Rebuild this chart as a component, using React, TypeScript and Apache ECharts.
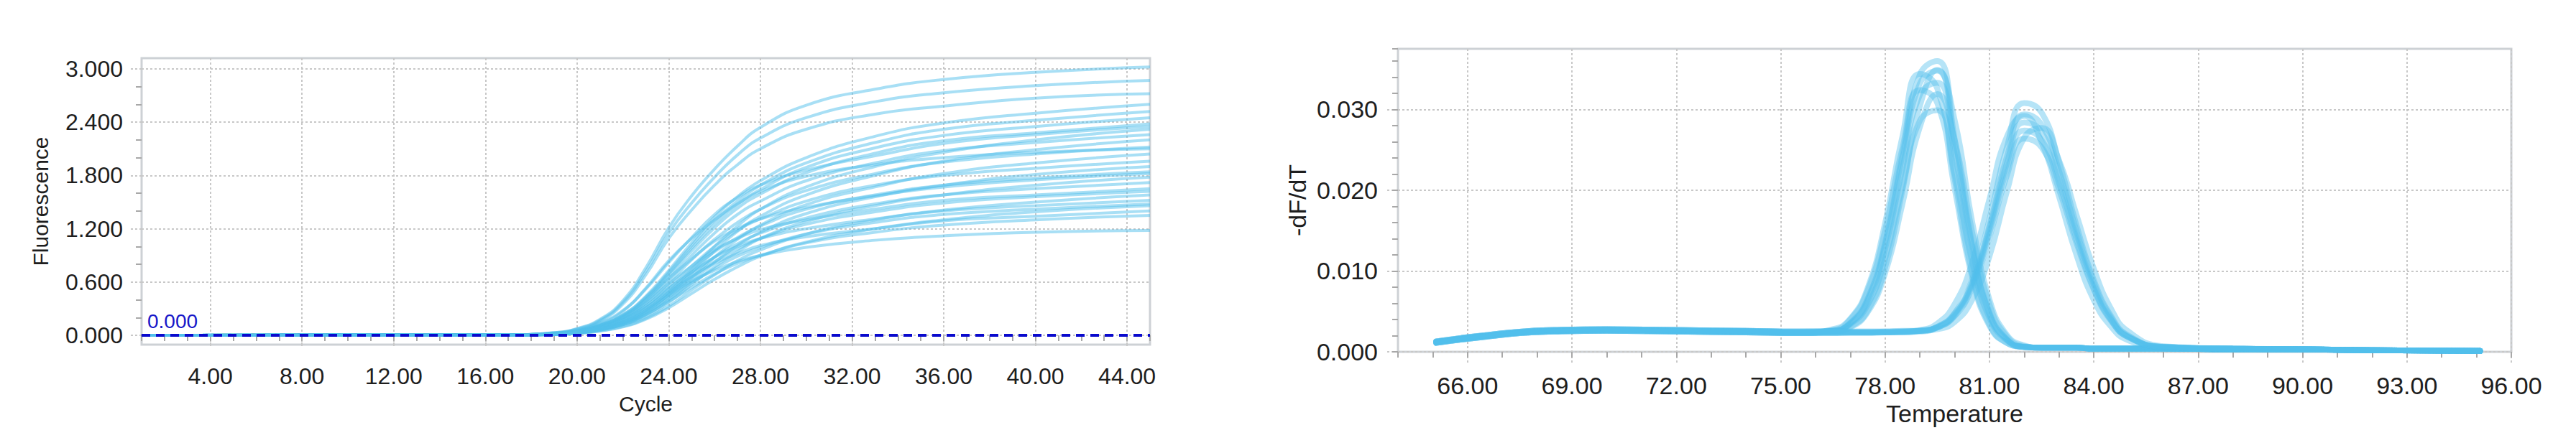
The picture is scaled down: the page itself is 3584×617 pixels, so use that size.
import { useEffect, useRef } from "react";
import * as echarts from "echarts";

// ---- amplification plot (left) ----
const CYCLES = [1, 17, 19, 20, 21, 22, 23, 24, 25, 26, 27, 28, 30, 33, 36, 40, 45];

const AMPLIFICATION: number[][] = [
  [0, 0.006, 0.03, 0.076, 0.18, 0.39, 0.76, 1.21, 1.57, 1.87, 2.13, 2.34, 2.59, 2.77, 2.88, 2.96, 3.02],
  [0, 0.006, 0.029, 0.072, 0.17, 0.37, 0.72, 1.15, 1.49, 1.78, 2.03, 2.22, 2.45, 2.63, 2.73, 2.81, 2.87],
  [0, 0.005, 0.027, 0.068, 0.16, 0.35, 0.68, 1.09, 1.41, 1.69, 1.92, 2.1, 2.32, 2.49, 2.58, 2.67, 2.72],
  [0, 0.005, 0.021, 0.052, 0.12, 0.23, 0.44, 0.73, 1.04, 1.33, 1.56, 1.74, 2.0, 2.24, 2.39, 2.5, 2.6],
  [0, 0.005, 0.02, 0.05, 0.11, 0.23, 0.43, 0.71, 1.01, 1.29, 1.51, 1.69, 1.94, 2.17, 2.32, 2.42, 2.52],
  [0, 0.005, 0.02, 0.049, 0.11, 0.22, 0.42, 0.69, 0.98, 1.25, 1.47, 1.64, 1.89, 2.11, 2.25, 2.35, 2.45],
  [0, 0.005, 0.019, 0.048, 0.11, 0.21, 0.4, 0.67, 0.95, 1.21, 1.43, 1.59, 1.83, 2.05, 2.19, 2.28, 2.38],
  [0, 0.005, 0.024, 0.059, 0.14, 0.28, 0.52, 0.82, 1.1, 1.36, 1.55, 1.69, 1.86, 2.02, 2.16, 2.26, 2.35],
  [0, 0.002, 0.012, 0.032, 0.074, 0.15, 0.28, 0.49, 0.74, 1.0, 1.23, 1.42, 1.67, 1.9, 2.06, 2.2, 2.32],
  [0, 0.005, 0.018, 0.045, 0.1, 0.2, 0.38, 0.63, 0.9, 1.15, 1.36, 1.51, 1.74, 1.94, 2.08, 2.17, 2.26],
  [0, 0.002, 0.011, 0.031, 0.07, 0.14, 0.26, 0.46, 0.7, 0.95, 1.17, 1.34, 1.58, 1.8, 1.96, 2.09, 2.2],
  [0, 0.004, 0.017, 0.042, 0.095, 0.19, 0.36, 0.59, 0.85, 1.08, 1.27, 1.42, 1.63, 1.82, 1.95, 2.04, 2.12],
  [0, 0.004, 0.021, 0.053, 0.13, 0.27, 0.53, 0.84, 1.09, 1.3, 1.48, 1.62, 1.79, 1.92, 2.0, 2.06, 2.1],
  [0, 0.002, 0.01, 0.029, 0.065, 0.13, 0.24, 0.43, 0.65, 0.88, 1.08, 1.24, 1.47, 1.67, 1.82, 1.94, 2.04],
  [0, 0.004, 0.016, 0.039, 0.088, 0.18, 0.33, 0.55, 0.78, 1.0, 1.18, 1.31, 1.51, 1.69, 1.8, 1.88, 1.96],
  [0, 0.002, 0.01, 0.027, 0.061, 0.12, 0.23, 0.4, 0.61, 0.82, 1.01, 1.16, 1.37, 1.56, 1.69, 1.81, 1.9],
  [0, 0.004, 0.015, 0.037, 0.083, 0.17, 0.31, 0.52, 0.74, 0.94, 1.1, 1.23, 1.42, 1.58, 1.69, 1.77, 1.84],
  [0, 0.004, 0.018, 0.046, 0.11, 0.22, 0.4, 0.64, 0.86, 1.06, 1.2, 1.31, 1.44, 1.57, 1.67, 1.75, 1.82],
  [0, 0.002, 0.009, 0.025, 0.057, 0.12, 0.21, 0.37, 0.57, 0.77, 0.94, 1.09, 1.28, 1.46, 1.58, 1.69, 1.78],
  [0, 0.003, 0.014, 0.034, 0.077, 0.15, 0.29, 0.48, 0.69, 0.88, 1.03, 1.15, 1.32, 1.48, 1.58, 1.65, 1.72],
  [0, 0.003, 0.017, 0.041, 0.099, 0.2, 0.36, 0.58, 0.78, 0.96, 1.09, 1.19, 1.3, 1.42, 1.52, 1.58, 1.65],
  [0, 0.003, 0.013, 0.032, 0.073, 0.15, 0.28, 0.45, 0.65, 0.83, 0.97, 1.09, 1.25, 1.39, 1.49, 1.56, 1.62],
  [0, 0.002, 0.008, 0.022, 0.051, 0.1, 0.19, 0.33, 0.51, 0.68, 0.84, 0.96, 1.14, 1.3, 1.41, 1.5, 1.58],
  [0, 0.003, 0.015, 0.038, 0.091, 0.18, 0.33, 0.53, 0.71, 0.88, 1.0, 1.09, 1.2, 1.31, 1.4, 1.46, 1.52],
  [0, 0.003, 0.012, 0.03, 0.067, 0.13, 0.25, 0.41, 0.59, 0.75, 0.89, 0.99, 1.14, 1.27, 1.36, 1.42, 1.48],
  [0, 0.001, 0.007, 0.02, 0.047, 0.095, 0.18, 0.31, 0.47, 0.63, 0.77, 0.89, 1.05, 1.2, 1.3, 1.39, 1.46],
  [0, 0.003, 0.014, 0.035, 0.084, 0.17, 0.31, 0.49, 0.66, 0.81, 0.92, 1.01, 1.11, 1.2, 1.29, 1.34, 1.4],
  [0, 0.003, 0.011, 0.027, 0.061, 0.12, 0.23, 0.38, 0.54, 0.69, 0.81, 0.9, 1.04, 1.16, 1.24, 1.3, 1.35],
  [0, 0.002, 0.012, 0.03, 0.07, 0.14, 0.27, 0.45, 0.61, 0.73, 0.83, 0.9, 0.99, 1.07, 1.12, 1.16, 1.18],
];

const CYCLE_TICKS = [4, 8, 12, 16, 20, 24, 28, 32, 36, 40, 44];
const FLUOR_TICKS = [0, 0.6, 1.2, 1.8, 2.4, 3.0];
const FLUOR_MINOR = [0.2, 0.4, 0.8, 1.0, 1.4, 1.6, 2.0, 2.2, 2.6, 2.8];
const THRESHOLD = 0;

// ---- melt curve plot (right) ----
const TEMPS = [
  65.1, 65.8, 66.6, 67.5, 68.5, 70, 72, 74, 75.5, 76.5, 77, 77.5, 78, 78.5, 79, 79.5,
  80, 80.5, 81, 81.5, 82, 82.5, 83, 83.5, 84, 84.5, 85, 86, 88, 90, 92, 95.1,
];

// wells whose product melts near 79.35 C
const MELT_PEAK1: number[][] = [
  [0.0013, 0.0017, 0.0021, 0.0025, 0.0027, 0.0028, 0.0027, 0.0026, 0.0025, 0.0026, 0.0036, 0.0066, 0.0135, 0.0244, 0.0343, 0.036, 0.0264, 0.0134, 0.0049, 0.0016, 0.0006, 0.0005, 0.0005, 0.0005, 0.0004, 0.0004, 0.0004, 0.0004, 0.0003, 0.0003, 0.0002, 0.0001],
  [0.0012, 0.0016, 0.002, 0.0024, 0.0026, 0.0027, 0.0026, 0.0025, 0.0024, 0.0026, 0.0035, 0.0064, 0.0131, 0.0237, 0.0332, 0.0348, 0.0255, 0.013, 0.0047, 0.0015, 0.0006, 0.0005, 0.0005, 0.0005, 0.0004, 0.0004, 0.0004, 0.0004, 0.0003, 0.0003, 0.0002, 0.0001],
  [0.0011, 0.0015, 0.0019, 0.0023, 0.0025, 0.0026, 0.0025, 0.0024, 0.0023, 0.0028, 0.0041, 0.0079, 0.0159, 0.0267, 0.0344, 0.0326, 0.0214, 0.0098, 0.0034, 0.0011, 0.0006, 0.0005, 0.0005, 0.0005, 0.0004, 0.0004, 0.0004, 0.0004, 0.0003, 0.0003, 0.0002, 0.0001],
  [0.0012, 0.0017, 0.0021, 0.0025, 0.0027, 0.0028, 0.0027, 0.0026, 0.0025, 0.0025, 0.0031, 0.0051, 0.0104, 0.02, 0.0304, 0.0349, 0.0287, 0.0162, 0.0065, 0.0021, 0.0008, 0.0005, 0.0005, 0.0005, 0.0004, 0.0004, 0.0004, 0.0004, 0.0003, 0.0003, 0.0002, 0.0001],
  [0.0013, 0.0016, 0.002, 0.0024, 0.0026, 0.0027, 0.0026, 0.0025, 0.0024, 0.0026, 0.0035, 0.0062, 0.0127, 0.0227, 0.0318, 0.0333, 0.0245, 0.0125, 0.0046, 0.0015, 0.0006, 0.0005, 0.0005, 0.0005, 0.0004, 0.0004, 0.0004, 0.0004, 0.0003, 0.0003, 0.0002, 0.0001],
  [0.0012, 0.0016, 0.002, 0.0024, 0.0026, 0.0027, 0.0026, 0.0025, 0.0024, 0.0027, 0.004, 0.0076, 0.015, 0.0252, 0.0324, 0.0308, 0.0202, 0.0093, 0.0032, 0.0011, 0.0006, 0.0005, 0.0005, 0.0005, 0.0004, 0.0004, 0.0004, 0.0004, 0.0003, 0.0003, 0.0002, 0.0001],
  [0.0011, 0.0015, 0.0019, 0.0023, 0.0025, 0.0026, 0.0025, 0.0024, 0.0023, 0.0025, 0.003, 0.0049, 0.0097, 0.0183, 0.0278, 0.0319, 0.0262, 0.0149, 0.0059, 0.0019, 0.0007, 0.0005, 0.0005, 0.0005, 0.0004, 0.0004, 0.0004, 0.0004, 0.0003, 0.0003, 0.0002, 0.0001],
  [0.0012, 0.0016, 0.002, 0.0024, 0.0026, 0.0027, 0.0026, 0.0025, 0.0024, 0.0026, 0.0034, 0.0058, 0.0115, 0.0205, 0.0286, 0.0299, 0.022, 0.0112, 0.0042, 0.0014, 0.0006, 0.0005, 0.0005, 0.0005, 0.0004, 0.0004, 0.0004, 0.0004, 0.0003, 0.0003, 0.0002, 0.0001],
];

// wells whose product melts near 82.15 C
const MELT_PEAK2: number[][] = [
  [0.0012, 0.0016, 0.002, 0.0024, 0.0026, 0.0027, 0.0026, 0.0025, 0.0024, 0.0024, 0.0024, 0.0024, 0.0024, 0.0025, 0.0026, 0.0031, 0.0048, 0.0089, 0.0164, 0.0253, 0.0308, 0.0296, 0.0235, 0.0157, 0.0089, 0.0044, 0.002, 0.0006, 0.0004, 0.0003, 0.0002, 0.0001],
  [0.0013, 0.0017, 0.0021, 0.0025, 0.0027, 0.0028, 0.0027, 0.0026, 0.0025, 0.0025, 0.0025, 0.0025, 0.0025, 0.0026, 0.0026, 0.0031, 0.0047, 0.0086, 0.0156, 0.0241, 0.0294, 0.0281, 0.0224, 0.015, 0.0085, 0.0042, 0.0019, 0.0006, 0.0004, 0.0003, 0.0002, 0.0001],
  [0.0011, 0.0015, 0.0019, 0.0023, 0.0025, 0.0026, 0.0025, 0.0024, 0.0023, 0.0023, 0.0023, 0.0023, 0.0024, 0.0024, 0.0025, 0.003, 0.0046, 0.0084, 0.0152, 0.0233, 0.0284, 0.0272, 0.0216, 0.0145, 0.0082, 0.004, 0.0018, 0.0006, 0.0004, 0.0003, 0.0002, 0.0001],
  [0.0012, 0.0016, 0.002, 0.0024, 0.0026, 0.0027, 0.0026, 0.0025, 0.0024, 0.0024, 0.0024, 0.0024, 0.0024, 0.0025, 0.0027, 0.0035, 0.0059, 0.011, 0.0189, 0.0266, 0.0292, 0.0259, 0.0192, 0.012, 0.0064, 0.0031, 0.0014, 0.0005, 0.0004, 0.0003, 0.0002, 0.0001],
  [0.0012, 0.0016, 0.002, 0.0024, 0.0026, 0.0027, 0.0026, 0.0025, 0.0024, 0.0024, 0.0024, 0.0024, 0.0025, 0.0025, 0.0026, 0.003, 0.0045, 0.0081, 0.0147, 0.0225, 0.0274, 0.0262, 0.0209, 0.014, 0.0079, 0.0039, 0.0018, 0.0006, 0.0004, 0.0003, 0.0002, 0.0001],
  [0.0013, 0.0017, 0.0021, 0.0025, 0.0027, 0.0028, 0.0027, 0.0026, 0.0025, 0.0025, 0.0025, 0.0025, 0.0025, 0.0025, 0.0026, 0.0028, 0.0037, 0.0064, 0.0118, 0.0198, 0.0265, 0.0277, 0.0237, 0.017, 0.0103, 0.0053, 0.0025, 0.0007, 0.0004, 0.0003, 0.0002, 0.0001],
  [0.0011, 0.0015, 0.0019, 0.0023, 0.0025, 0.0026, 0.0025, 0.0024, 0.0023, 0.0023, 0.0024, 0.0024, 0.0024, 0.0024, 0.0026, 0.003, 0.0044, 0.0079, 0.0142, 0.0218, 0.0264, 0.0253, 0.0201, 0.0135, 0.0077, 0.0038, 0.0018, 0.0006, 0.0004, 0.0003, 0.0002, 0.0001],
];

const TEMP_TICKS = [66, 69, 72, 75, 78, 81, 84, 87, 90, 93, 96];
const DFDT_TICKS = [0, 0.01, 0.02, 0.03];

const CURVE_COLOR = "#52bfec";
const TEXT_COLOR = "#1e1e1e";
const FONT = '"Liberation Sans", Arial, sans-serif';
const DOTTED = { color: "#c8c8c8", width: 2, type: [3, 3] as number[] };
const MINOR_TICK = { color: "#a8a8a8", width: 2 };

function mainAxis(o: {
  grid: number;
  min: number;
  max: number;
  ticks: number[];
  digits: number;
  fontSize: number;
  margin: number;
  name: string;
  nameGap: number;
  nameSize: number;
}) {
  return {
    type: "value",
    gridIndex: o.grid,
    min: o.min,
    max: o.max,
    axisLine: { show: false },
    axisTick: { show: true, customValues: o.ticks, length: 18, lineStyle: DOTTED },
    axisLabel: {
      customValues: o.ticks,
      formatter: (v: number) => v.toFixed(o.digits),
      fontSize: o.fontSize,
      fontFamily: FONT,
      color: TEXT_COLOR,
      margin: o.margin,
    },
    splitLine: { show: true, lineStyle: DOTTED },
    name: o.name,
    nameLocation: "middle",
    nameGap: o.nameGap,
    nameTextStyle: { fontSize: o.nameSize, fontFamily: FONT, color: TEXT_COLOR },
  };
}

// overlay axis that only draws the short minor ticks
function minorAxis(grid: number, min: number, max: number, extra: object) {
  return {
    type: "value",
    gridIndex: grid,
    min,
    max,
    axisLine: { show: false },
    axisLabel: { show: false },
    splitLine: { show: false },
    ...extra,
  };
}

export default function App() {
  const chartRef = useRef<HTMLDivElement>(null);

  useEffect(() => {
    document.body.style.margin = "0";
    if (!chartRef.current) return;
    const chart = echarts.init(chartRef.current, null, { renderer: "svg" });

    const ampGrid = { left: 197, top: 81, width: 1403, height: 399 };
    const meltGrid = { left: 1945, top: 68, width: 1549, height: 422 };
    const frame = { show: true, borderColor: "#cdd1d5", borderWidth: 3, backgroundColor: "#fff" };

    const ampSeries = AMPLIFICATION.map((vals, i) => ({
      name: `well ${i + 1}`,
      type: "line",
      xAxisIndex: 0,
      yAxisIndex: 0,
      data: vals.map((v, j) => [CYCLES[j], v]),
      smooth: 0.5,
      showSymbol: false,
      symbol: "none",
      silent: true,
      lineStyle: { color: CURVE_COLOR, width: 4, opacity: 0.5 },
    }));

    const meltSeries = [...MELT_PEAK1, ...MELT_PEAK2].map((vals, i) => ({
      name: `melt ${i + 1}`,
      type: "line",
      xAxisIndex: 2,
      yAxisIndex: 2,
      data: vals.map((v, j) => [TEMPS[j], v]),
      smooth: 0.5,
      showSymbol: false,
      symbol: "none",
      silent: true,
      lineStyle: { color: CURVE_COLOR, width: 8, opacity: 0.42, cap: "round" },
    }));

    const thresholdSeries = {
      name: "threshold",
      type: "line",
      xAxisIndex: 0,
      yAxisIndex: 0,
      data: [],
      silent: true,
      markLine: {
        silent: true,
        symbol: "none",
        data: [{ yAxis: THRESHOLD }],
        lineStyle: { color: "#0a0acd", width: 4, type: [12, 8] },
        label: {
          show: true,
          position: "insideStartTop",
          formatter: THRESHOLD.toFixed(3),
          color: "#1616c8",
          fontSize: 28,
          fontFamily: FONT,
          distance: [8, 6],
        },
      },
    };

    chart.setOption({
      animation: false,
      textStyle: { fontFamily: FONT },
      grid: [
        { ...ampGrid, ...frame, outerBoundsMode: "none" },
        { ...ampGrid, outerBoundsMode: "none" },
        { ...meltGrid, ...frame, outerBoundsMode: "none" },
        { ...meltGrid, outerBoundsMode: "none" },
      ],
      xAxis: [
        mainAxis({ grid: 0, min: 1, max: 45, ticks: CYCLE_TICKS, digits: 2, fontSize: 32, margin: 28, name: "Cycle", nameGap: 67, nameSize: 30 }),
        minorAxis(1, 1, 45, { interval: 1, axisTick: { length: 8, lineStyle: MINOR_TICK } }),
        mainAxis({ grid: 2, min: 64, max: 96, ticks: TEMP_TICKS, digits: 2, fontSize: 34, margin: 30, name: "Temperature", nameGap: 69, nameSize: 34 }),
        minorAxis(3, 64, 96, { interval: 1, axisTick: { length: 8, lineStyle: MINOR_TICK } }),
      ],
      yAxis: [
        mainAxis({ grid: 0, min: -0.105, max: 3.12, ticks: FLUOR_TICKS, digits: 3, fontSize: 32, margin: 26, name: "Fluorescence", nameGap: 126, nameSize: 30 }),
        minorAxis(1, -0.105, 3.12, { axisTick: { customValues: FLUOR_MINOR, length: 8, lineStyle: MINOR_TICK } }),
        mainAxis({ grid: 2, min: 0, max: 0.0375, ticks: DFDT_TICKS, digits: 3, fontSize: 34, margin: 28, name: "-dF/dT", nameGap: 123, nameSize: 34 }),
        minorAxis(3, 0, 0.0375, { interval: 0.002, axisTick: { length: 8, lineStyle: MINOR_TICK } }),
      ],
      series: [...ampSeries, thresholdSeries, ...meltSeries],
    });

    return () => chart.dispose();
  }, []);

  return <div ref={chartRef} style={{ width: "3584px", height: "617px" }} />;
}
